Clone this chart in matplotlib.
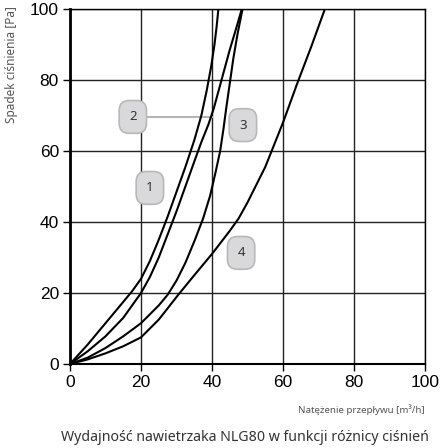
import matplotlib
matplotlib.use('Agg')
import matplotlib.pyplot as plt

plt.rcParams['font.family'] = ['Liberation Sans', 'DejaVu Sans']

# curve points (flow m3/h, pressure Pa)
c1_x = [0, 5, 10, 15, 17.5, 20, 22.5, 25, 27.5, 30, 32.5, 35, 37, 38.5, 39.8, 40.7, 41.3, 41.8]
c1_y = [0, 5.5, 11.5, 17.5, 20.5, 24, 29, 35, 41.5, 48.5, 55.5, 63, 70, 77, 84, 90, 95, 100]

c2_x = [0, 5, 10, 15, 20, 22.5, 25, 27.5, 30, 32.5, 35, 37, 39, 40.5, 42, 43.5, 45, 46.5, 48.4]
c2_y = [0, 3.6, 7.8, 13, 20, 24.5, 30, 36.5, 43, 50, 57, 62.5, 67.5, 72, 77.5, 83, 88.5, 93.5, 100]

c3_x = [0, 5, 10, 15, 20, 25, 27.5, 30, 32.5, 35, 37.5, 39.5, 41, 42.3, 43.2, 44, 45, 46, 47.2, 48.6]
c3_y = [0, 1.8, 4.5, 7.8, 11.5, 16.5, 19.5, 23.5, 28.5, 34.5, 41, 47.5, 54, 60, 66, 72, 79, 86, 93, 100]

c4_x = [0, 5, 10, 15, 20, 25, 30.5, 35, 40, 45, 47.5, 50, 55, 60, 64, 68, 71.8]
c4_y = [0, 1.3, 3, 5, 7.5, 12.5, 19.5, 25, 31, 37.5, 41, 45.5, 55.5, 68, 79, 89.5, 100]

curves = [(c1_x, c1_y), (c2_x, c2_y), (c3_x, c3_y), (c4_x, c4_y)]

# label positions
lab_names = ['1', '2', '3', '4']
lab_x = [22.5, 17.7, 48.7, 48.2]
lab_y = [49.6, 69.6, 67.3, 31.3]

ticks = [0, 20, 40, 60, 80, 100]

fig = plt.figure(figsize=(4.4, 4.48), dpi=100)
ax = fig.add_axes([70 / 440, 1 - 364 / 448, 355 / 440, 355 / 448])

for xs, ys in curves:
    ax.plot(xs, ys, color='black', lw=1.5, zorder=3, solid_joinstyle='round')

# pointer for label 2
ax.plot([lab_x[1] + 2, 40], [lab_y[1], lab_y[1]], color='#b5b5b5', lw=1.5, zorder=2)

for name, lx, ly in zip(lab_names, lab_x, lab_y):
    ax.text(lx, ly, name, ha='center', va='center', fontsize=9.5, color='#333333',
            family='Noto Sans', zorder=5,
            bbox=dict(boxstyle='round,pad=0.75,rounding_size=0.75', fc='#d9d9dc', ec='#b8b8b8', lw=1.2))

ax.set_xlim(0, 100)
ax.set_ylim(0, 100)
ax.set_xticks(ticks)
ax.set_yticks(ticks)
ax.grid(True, color='#222222', lw=1.0, zorder=1)
ax.set_axisbelow(True)
ax.tick_params(direction='out', length=5, width=1, labelsize=12.5, pad=3)
for s in ['top', 'right']:
    ax.spines[s].set_linewidth(1.0)
ax.spines['left'].set_linewidth(2.0)
ax.spines['bottom'].set_linewidth(1.5)

fig.text(12 / 440, 1 - 65 / 448, 'Spadek ciśnienia [Pa]', rotation=90, ha='center', va='center',
         fontsize=8.5, color='#555555', family='Noto Sans')
fig.text(425 / 440, 1 - 410 / 448, 'Natężenie przepływu [m³/h]', ha='right', va='center',
         fontsize=7, color='#555555', family='Noto Sans')
fig.text(245 / 440, 1 - 437 / 448, 'Wydajność nawietrzaka NLG80 w funkcji różnicy ciśnień',
         ha='center', va='center', fontsize=10.2, color='#333333', family='Noto Sans')

fig.savefig('out.png', dpi=100)
